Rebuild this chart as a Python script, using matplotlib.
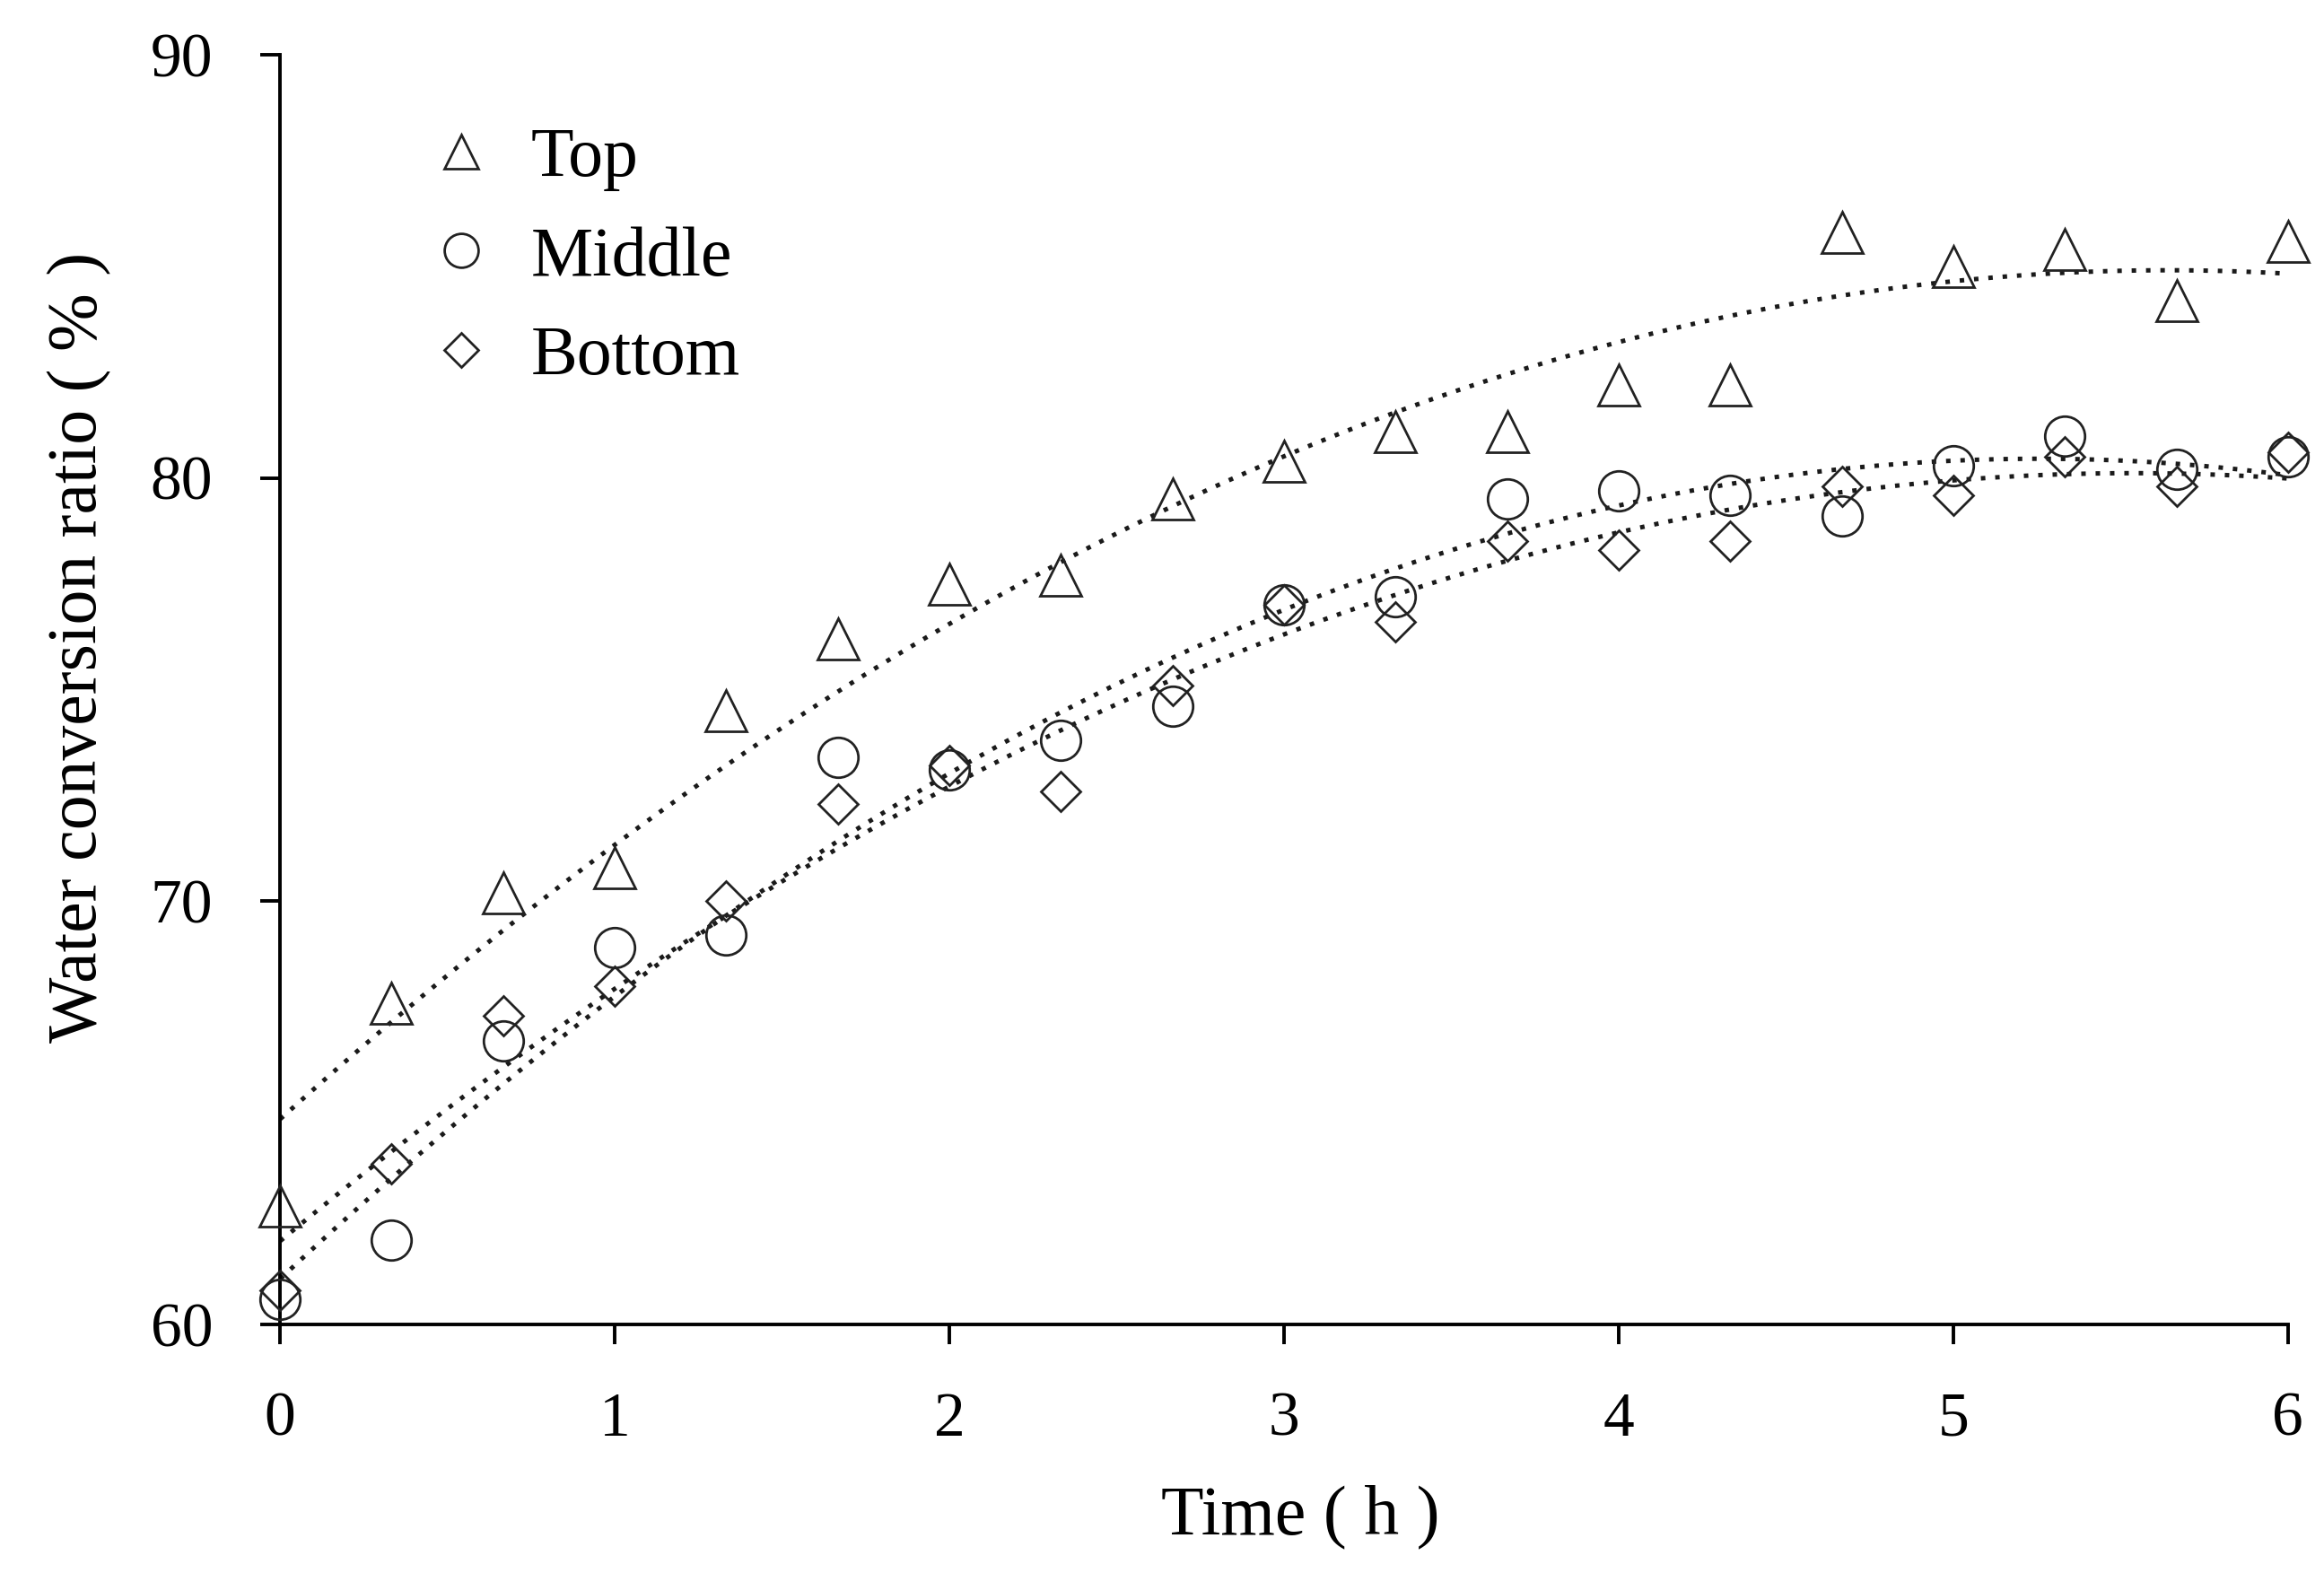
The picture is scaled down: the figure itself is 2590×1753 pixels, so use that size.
import numpy as np
import matplotlib
matplotlib.use('Agg')
import matplotlib.pyplot as plt

# sampling times (h)
time_h = [0, 1/3, 2/3, 1, 4/3, 5/3, 2, 7/3, 8/3, 3, 10/3, 11/3, 4, 13/3, 14/3, 5, 16/3, 17/3, 6]

# water conversion ratio (%)
top = [62.8, 67.6, 70.2, 70.8, 74.5, 76.2, 77.5, 77.7, 79.5, 80.4,
       81.1, 81.1, 82.2, 82.2, 85.8, 85.0, 85.4, 84.2, 85.6]
middle = [60.6, 62.0, 66.7, 68.9, 69.2, 73.4, 73.1, 73.8, 74.6, 77.0,
          77.2, 79.5, 79.7, 79.6, 79.1, 80.3, 81.0, 80.2, 80.5]
bottom = [60.8, 63.8, 67.3, 68.0, 70.0, 72.3, 73.2, 72.6, 75.1, 77.0,
          76.6, 78.5, 78.3, 78.5, 79.8, 79.6, 80.5, 79.8, 80.6]

series_names = ['Top', 'Middle', 'Bottom']
x_ticks = [0, 1, 2, 3, 4, 5, 6]
y_ticks = [60, 70, 80, 90]

plt.rcParams['font.family'] = ['Liberation Serif', 'DejaVu Serif']

fig = plt.figure(figsize=(12.95, 8.765), dpi=200)
ax = fig.add_axes([0.1205, 0.158, 0.864, 0.8072])

styles = [('^', 16.5), ('o', 16.0), ('D', 11.3)]
t = np.array(time_h)
t_fit = np.linspace(0, 6, 200)
for vals, name, (mk, ms) in zip([top, middle, bottom], series_names, styles):
    ax.plot(t, vals, linestyle='none', marker=mk, markersize=ms,
            markerfacecolor='none', markeredgecolor='#222222',
            markeredgewidth=1.0, label=name, clip_on=False, zorder=3)
    # quadratic trend line through each series
    coef = np.polyfit(t, vals, 2)
    ax.plot(t_fit, np.polyval(coef, t_fit), color='#1a1a1a',
            linestyle=(0, (1, 2.2)), linewidth=1.8, zorder=2)

ax.set_xlim(0, 6)
ax.set_ylim(60, 90)
ax.set_xticks(x_ticks)
ax.set_yticks(y_ticks)
ax.spines['top'].set_visible(False)
ax.spines['right'].set_visible(False)
for s in ['left', 'bottom']:
    ax.spines[s].set_linewidth(1.4)
ax.tick_params(direction='out', length=8, width=1.4, pad=19, labelsize=25)

ax.set_xlabel('Time ( h )', fontsize=28)
ax.set_ylabel('Water conversion ratio ( % )', fontsize=28)
ax.xaxis.set_label_coords(0.508, -0.126)
ax.yaxis.set_label_coords(-0.084, 0.533)

ax.legend(loc='upper left', bbox_to_anchor=(0.0728, 0.943), frameon=False,
          fontsize=28, markerscale=0.85, handlelength=1.0, handletextpad=0.5,
          labelspacing=0.5, borderpad=0, borderaxespad=0)

fig.savefig('out.png', dpi=200, facecolor='white')
